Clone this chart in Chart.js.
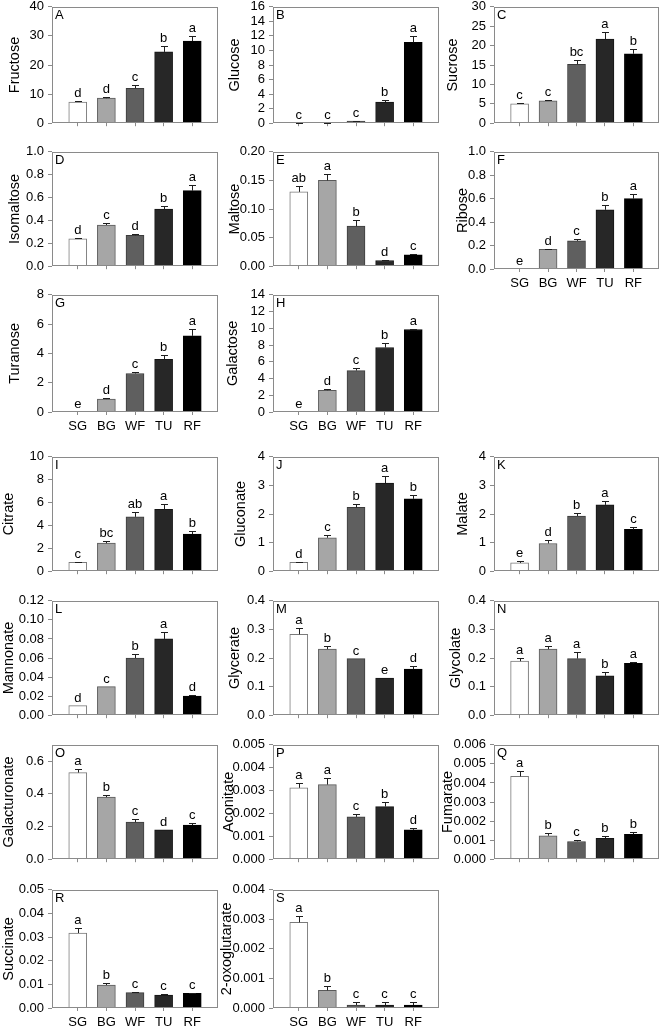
<!DOCTYPE html>
<html><head><meta charset="utf-8">
<script src="https://cdn.jsdelivr.net/npm/chart.js@4.4.0/dist/chart.umd.min.js"></script>
<style>
html,body{margin:0;padding:0;background:#fff;}
#wrap{position:relative;width:662px;height:1032px;overflow:hidden;background:#fff;}
canvas{position:absolute;}
</style></head><body><div id="wrap"></div>
<script>
// ---------- DATA ----------
const categories = ['SG', 'BG', 'WF', 'TU', 'RF'];

const fructose = [7.3, 8.6, 12.0, 24.5, 28.2];
const fructoseErr = [0.4, 0.3, 1.0, 2.0, 1.8];
const fructoseSig = ['d', 'd', 'c', 'b', 'a'];

const glucose = [0.03, 0.06, 0.28, 2.9, 11.1];
const glucoseErr = [0.01, 0.02, 0.08, 0.3, 0.95];
const glucoseSig = ['c', 'c', 'c', 'b', 'a'];

const sucrose = [5.0, 5.75, 15.2, 21.7, 17.9];
const sucroseErr = [0.2, 0.25, 1.0, 1.9, 1.3];
const sucroseSig = ['c', 'c', 'bc', 'a', 'b'];

const isomaltose = [0.24, 0.36, 0.27, 0.50, 0.66];
const isomaltoseErr = [0.01, 0.02, 0.01, 0.03, 0.05];
const isomaltoseSig = ['d', 'c', 'd', 'b', 'a'];

const maltose = [0.13, 0.15, 0.07, 0.01, 0.02];
const maltoseErr = [0.01, 0.011, 0.011, 0.001, 0.001];
const maltoseSig = ['ab', 'a', 'b', 'd', 'c'];

const ribose = [0, 0.167, 0.24, 0.505, 0.60];
const riboseErr = [0, 0.007, 0.02, 0.045, 0.04];
const riboseSig = ['e', 'd', 'c', 'b', 'a'];

const turanose = [0, 0.88, 2.63, 3.6, 5.2];
const turanoseErr = [0, 0.06, 0.1, 0.3, 0.45];
const turanoseSig = ['e', 'd', 'c', 'b', 'a'];

const galactose = [0, 2.6, 4.95, 7.7, 9.85];
const galactoseErr = [0, 0.1, 0.3, 0.5, 0.1];
const galactoseSig = ['e', 'd', 'c', 'b', 'a'];

const citrate = [0.78, 2.45, 4.75, 5.4, 3.25];
const citrateErr = [0.05, 0.15, 0.4, 0.5, 0.25];
const citrateSig = ['c', 'bc', 'ab', 'a', 'b'];

const gluconate = [0.31, 1.17, 2.23, 3.08, 2.53];
const gluconateErr = [0.02, 0.09, 0.12, 0.25, 0.15];
const gluconateSig = ['d', 'c', 'b', 'a', 'b'];

const malate = [0.29, 0.97, 1.93, 2.32, 1.46];
const malateErr = [0.05, 0.12, 0.1, 0.15, 0.1];
const malateSig = ['e', 'd', 'b', 'a', 'c'];

const mannonate = [0.01, 0.03, 0.06, 0.08, 0.02];
const mannonateErr = [0, 0, 0.004, 0.007, 0.0015];
const mannonateSig = ['d', 'c', 'b', 'a', 'd'];

const glycerate = [0.283, 0.231, 0.198, 0.13, 0.161];
const glycerateErr = [0.023, 0.012, 0, 0, 0.011];
const glycerateSig = ['a', 'b', 'c', 'e', 'd'];

const glycolate = [0.189, 0.231, 0.198, 0.138, 0.181];
const glycolateErr = [0.011, 0.012, 0.022, 0.012, 0.006];
const glycolateSig = ['a', 'a', 'a', 'b', 'a'];

const galacturonate = [0.53, 0.38, 0.227, 0.18, 0.209];
const galacturonateErr = [0.022, 0.01, 0.016, 0, 0.014];
const galacturonateSig = ['a', 'b', 'c', 'd', 'c'];

const aconitate = [0.00312, 0.00326, 0.00185, 0.0023, 0.00128];
const aconitateErr = [0.0002, 0.0003, 0.00013, 0.0002, 0.0001];
const aconitateSig = ['a', 'a', 'c', 'b', 'd'];

const fumarate = [0.00434, 0.00123, 0.00093, 0.0011, 0.00131];
const fumarateErr = [0.0003, 0.00012, 0.0001, 0.00013, 0.00012];
const fumarateSig = ['a', 'b', 'c', 'b', 'b'];

const succinate = [0.0317, 0.0097, 0.0065, 0.0055, 0.0062];
const succinateErr = [0.002, 0.001, 0.0004, 0.0004, 0.0003];
const succinateSig = ['a', 'b', 'c', 'c', 'c'];

const oxoglutarate = [0.0029, 0.0006, 0.0001, 0.0001, 0.0001];
const oxoglutarateErr = [0.0002, 0.00013, 0.0001, 0.0001, 0.0001];
const oxoglutarateSig = ['a', 'b', 'c', 'c', 'c'];

// panel definitions: label, title, data, y-axis max / step / decimals
const panels = [
  {id:'A', title:'Fructose', v:fructose, e:fructoseErr, s:fructoseSig, max:40, step:10, dec:0},
  {id:'B', title:'Glucose', v:glucose, e:glucoseErr, s:glucoseSig, max:16, step:2, dec:0},
  {id:'C', title:'Sucrose', v:sucrose, e:sucroseErr, s:sucroseSig, max:30, step:5, dec:0},
  {id:'D', title:'Isomaltose', v:isomaltose, e:isomaltoseErr, s:isomaltoseSig, max:1.0, step:0.2, dec:1},
  {id:'E', title:'Maltose', v:maltose, e:maltoseErr, s:maltoseSig, max:0.20, step:0.05, dec:2},
  {id:'F', title:'Ribose', v:ribose, e:riboseErr, s:riboseSig, max:1.0, step:0.2, dec:1},
  {id:'G', title:'Turanose', v:turanose, e:turanoseErr, s:turanoseSig, max:8, step:2, dec:0},
  {id:'H', title:'Galactose', v:galactose, e:galactoseErr, s:galactoseSig, max:14, step:2, dec:0},
  {id:'I', title:'Citrate', v:citrate, e:citrateErr, s:citrateSig, max:10, step:2, dec:0},
  {id:'J', title:'Gluconate', v:gluconate, e:gluconateErr, s:gluconateSig, max:4, step:1, dec:0},
  {id:'K', title:'Malate', v:malate, e:malateErr, s:malateSig, max:4, step:1, dec:0},
  {id:'L', title:'Mannonate', v:mannonate, e:mannonateErr, s:mannonateSig, max:0.12, step:0.02, dec:2},
  {id:'M', title:'Glycerate', v:glycerate, e:glycerateErr, s:glycerateSig, max:0.4, step:0.1, dec:1},
  {id:'N', title:'Glycolate', v:glycolate, e:glycolateErr, s:glycolateSig, max:0.4, step:0.1, dec:1},
  {id:'O', title:'Galacturonate', v:galacturonate, e:galacturonateErr, s:galacturonateSig, max:0.7, step:0.2, dec:1},
  {id:'P', title:'Aconitate', v:aconitate, e:aconitateErr, s:aconitateSig, max:0.005, step:0.001, dec:3},
  {id:'Q', title:'Fumarate', v:fumarate, e:fumarateErr, s:fumarateSig, max:0.006, step:0.001, dec:3},
  {id:'R', title:'Succinate', v:succinate, e:succinateErr, s:succinateSig, max:0.05, step:0.01, dec:2},
  {id:'S', title:'2-oxoglutarate', v:oxoglutarate, e:oxoglutarateErr, s:oxoglutarateSig, max:0.004, step:0.001, dec:3}
];

// ---------- LAYOUT / STYLE ----------
const cols = [{l:52, w:166}, {l:273, w:166}, {l:494, w:165}];
const rows = [{t:5, h:121}, {t:150, h:119}, {t:293, h:119}, {t:455, h:119}, {t:599, h:119}, {t:743, h:119}, {t:888, h:120}];
const place = {
  A:{r:0,c:0,xl:false,gap:37}, B:{r:0,c:1,xl:false,gap:38}, C:{r:0,c:2,xl:false,gap:41},
  D:{r:1,c:0,xl:false,gap:37}, E:{r:1,c:1,xl:false,gap:38}, F:{r:1,c:2,xl:true,gap:31},
  G:{r:2,c:0,xl:true,gap:37},  H:{r:2,c:1,xl:true,gap:40},
  I:{r:3,c:0,xl:false,gap:43}, J:{r:3,c:1,xl:false,gap:32}, K:{r:3,c:2,xl:false,gap:31},
  L:{r:4,c:0,xl:false,gap:43}, M:{r:4,c:1,xl:false,gap:38}, N:{r:4,c:2,xl:false,gap:38},
  O:{r:5,c:0,xl:false,gap:43}, P:{r:5,c:1,xl:false,gap:44}, Q:{r:5,c:2,xl:false,gap:46},
  R:{r:6,c:0,xl:true,gap:43},  S:{r:6,c:1,xl:true,gap:46}
};
const FONT = "'Liberation Sans', Arial, Helvetica, sans-serif";
const barFill = ['#ffffff', '#a6a6a6', '#5f5f5f', '#272727', '#000000'];
const barEdge = ['#7a7a7a', '#5a5a5a', '#3c3c3c', '#151515', '#000000'];
const AXW = 60, PADT = 10, PADR = 3;

Chart.defaults.font.family = FONT;

function annot(p) {
  return {
    id: 'annot' + p.id,
    afterDatasetsDraw(chart) {
      const ctx = chart.ctx, ys = chart.scales.y, a = chart.chartArea;
      const meta = chart.getDatasetMeta(0);
      ctx.save();
      ctx.lineWidth = 1;
      ctx.strokeStyle = '#1e1e1e';
      ctx.fillStyle = '#000';
      ctx.font = '13px ' + FONT;
      ctx.textAlign = 'center';
      ctx.textBaseline = 'alphabetic';
      meta.data.forEach((bar, i) => {
        const v = p.v[i], e = p.e[i];
        const x = Math.round(bar.x) + 0.5;
        const yTop = ys.getPixelForValue(v + e);
        if (e > 0) {
          const yc = Math.round(yTop) + 0.5;
          ctx.beginPath();
          ctx.moveTo(x, bar.y);
          ctx.lineTo(x, yc);
          ctx.moveTo(x - 3.5, yc);
          ctx.lineTo(x + 3.5, yc);
          ctx.stroke();
        }
        ctx.fillText(p.s[i], bar.x, Math.min(yTop, bar.y) - 4);
      });
      // frame
      ctx.strokeStyle = '#8a8a8a';
      ctx.strokeRect(Math.round(a.left) + 0.5, Math.round(a.top) + 0.5, Math.round(a.width) - 1, Math.round(a.height) - 1);
      // panel letter
      ctx.textAlign = 'left';
      ctx.textBaseline = 'top';
      ctx.fillText(p.id, a.left + 3, a.top + 2);
      ctx.restore();
    }
  };
}

const wrap = document.getElementById('wrap');
panels.forEach(p => {
  const pl = place[p.id];
  const col = cols[pl.c], row = rows[pl.r];
  const xh = pl.xl ? 30 : 9;
  const cv = document.createElement('canvas');
  cv.width = AXW + col.w + PADR;
  cv.height = PADT + row.h + xh;
  cv.style.left = (col.l - AXW) + 'px';
  cv.style.top = (row.t - PADT) + 'px';
  wrap.appendChild(cv);

  new Chart(cv, {
    type: 'bar',
    data: {
      datasets: [{
        data: p.v.map((y, i) => ({x: i, y: y})),
        backgroundColor: barFill,
        borderColor: barEdge,
        borderWidth: 1,
        barThickness: 18
      }]
    },
    options: {
      responsive: false,
      animation: false,
      devicePixelRatio: 1,
      layout: {padding: {top: PADT, right: PADR, left: 0, bottom: 0}},
      plugins: {legend: {display: false}, tooltip: {enabled: false}},
      scales: {
        x: {
          type: 'linear', min: -0.9, max: 4.9, offset: false,
          grid: {offset: false, drawOnChartArea: false, drawTicks: true, tickLength: 3, color: '#8a8a8a'},
          border: {display: false},
          ticks: {
            font: {size: 13, family: FONT}, color: '#000', padding: 4, maxRotation: 0, autoSkip: false,
            callback: (val) => pl.xl ? (categories[val] || '') : ''
          },
          afterBuildTicks: s => { s.ticks = categories.map((c, i) => ({value: i})); },
          afterFit: s => { s.height = xh; }
        },
        y: {
          min: 0, max: p.max,
          grid: {drawOnChartArea: false, drawTicks: true, tickLength: 4, color: '#8a8a8a'},
          border: {display: false},
          ticks: {
            font: {size: 13, family: FONT}, color: '#000', padding: 4, autoSkip: false,
            callback: (val) => Number(val).toFixed(p.dec)
          },
          afterBuildTicks: s => {
            const t = [];
            for (let k = 0; k * p.step <= p.max * (1 + 1e-9); k++) {
              t.push({value: Math.round(k * p.step * 1e9) / 1e9});
            }
            s.ticks = t;
          },
          afterFit: s => { s.width = AXW; },
          title: {
            display: true, text: p.title, color: '#000',
            font: {size: 14.5, family: FONT},
            padding: {top: AXW - pl.gap - 8.7, bottom: 0}
          }
        }
      }
    },
    plugins: [annot(p)]
  });
});
</script>
</body></html>
